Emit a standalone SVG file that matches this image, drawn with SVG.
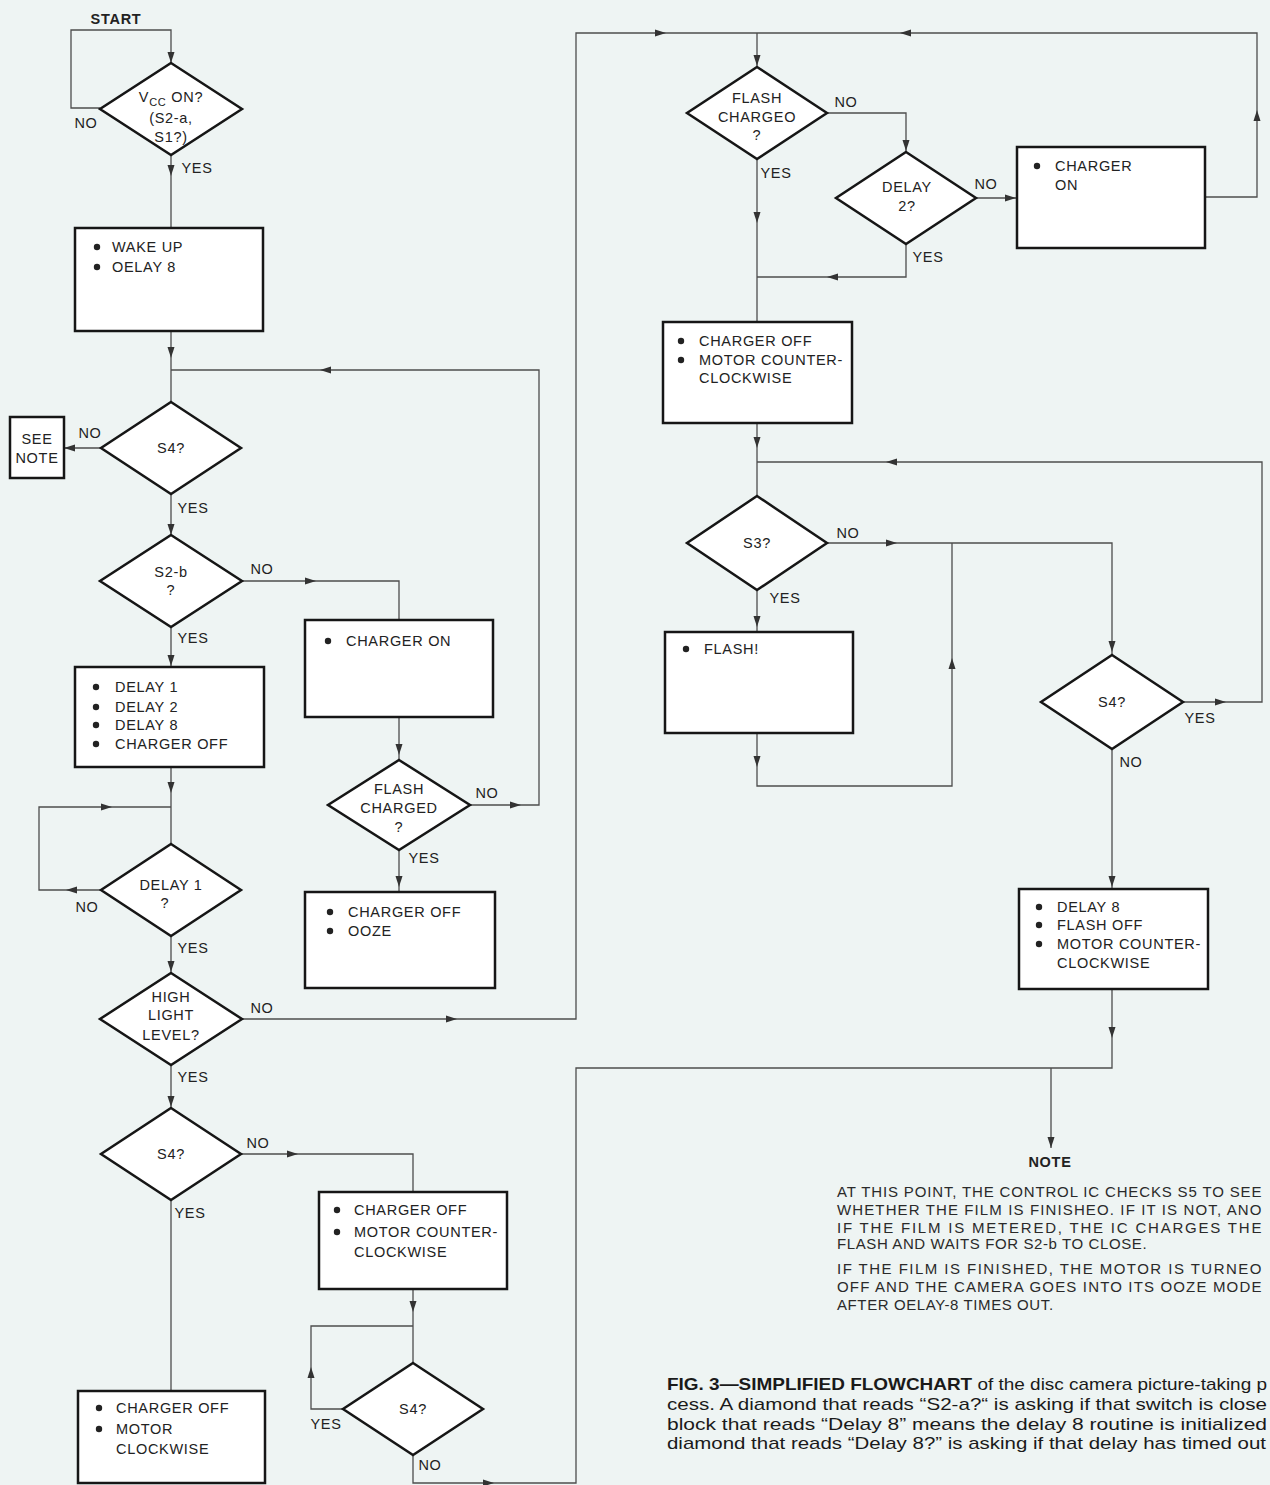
<svg xmlns="http://www.w3.org/2000/svg" xmlns:xlink="http://www.w3.org/1999/xlink" width="1270" height="1485" viewBox="0 0 1270 1485">
<style>
.bg{fill:#eef4f3}
.box{fill:#fff;stroke:#161616;stroke-width:2.5}
.conn{fill:none;stroke:#4d4d4d;stroke-width:1.3}
.t{font-family:"Liberation Sans",Arial,sans-serif;font-size:14.5px;fill:#222;letter-spacing:0.7px}
.c{text-anchor:middle}
.b{font-weight:bold}
.bul{fill:#222}
.note{font-family:"Liberation Sans",Arial,sans-serif;font-size:15px;fill:#2a2a2a;letter-spacing:0.6px}
.cap{font-family:"Liberation Sans",Arial,sans-serif;font-size:17px;fill:#1a1a1a}
</style>
<defs>
<path id="ah" d="M0,0 L-11,-3.5 L-11,3.5 Z" fill="#333"/>
</defs>
<rect class="bg" x="0" y="0" width="1270" height="1485"/>

<g id="connectors">
<path class="conn" d="M100,108 H71 V30 H171 V63"/>
<path class="conn" d="M171,155 V228"/>
<path class="conn" d="M171,331 V402"/>
<path class="conn" d="M469,805 H539 V370 H171"/>
<path class="conn" d="M101,448 H64"/>
<path class="conn" d="M171,494 V535"/>
<path class="conn" d="M242,581 H399 V620"/>
<path class="conn" d="M171,627 V667"/>
<path class="conn" d="M171,767 V844"/>
<path class="conn" d="M171,807 H39 V890 H101"/>
<path class="conn" d="M171,936 V973"/>
<path class="conn" d="M242,1019 H576 V33 H1257 V197 H1205"/>
<path class="conn" d="M757,33 V67"/>
<path class="conn" d="M171,1065 V1108"/>
<path class="conn" d="M241,1154 H413 V1192"/>
<path class="conn" d="M171,1200 V1391"/>
<path class="conn" d="M413,1289 V1363"/>
<path class="conn" d="M413,1326 H311 V1409 H343"/>
<path class="conn" d="M413,1455 V1483 H576 V1068 H1112 V989"/>
<path class="conn" d="M1051,1068 V1148"/>
<path class="conn" d="M399,717 V760"/>
<path class="conn" d="M399,850 V892"/>
<path class="conn" d="M827,113 H906 V152"/>
<path class="conn" d="M757,159 V322"/>
<path class="conn" d="M976,198 H1017"/>
<path class="conn" d="M906,244 V277 H757"/>
<path class="conn" d="M757,423 V496"/>
<path class="conn" d="M1183,702 H1262 V462 H757"/>
<path class="conn" d="M827,543 H1112 V655"/>
<path class="conn" d="M757,590 V632"/>
<path class="conn" d="M757,733 V786 H952 V543"/>
<path class="conn" d="M1112,749 V889"/>
<use xlink:href="#ah" transform="translate(171,63) rotate(90)"/>
<use xlink:href="#ah" transform="translate(171,176) rotate(90)"/>
<use xlink:href="#ah" transform="translate(171,358) rotate(90)"/>
<use xlink:href="#ah" transform="translate(320,370) rotate(180)"/>
<use xlink:href="#ah" transform="translate(521,805)"/>
<use xlink:href="#ah" transform="translate(64,448) rotate(180)"/>
<use xlink:href="#ah" transform="translate(171,535) rotate(90)"/>
<use xlink:href="#ah" transform="translate(316,581)"/>
<use xlink:href="#ah" transform="translate(171,666) rotate(90)"/>
<use xlink:href="#ah" transform="translate(171,793) rotate(90)"/>
<use xlink:href="#ah" transform="translate(112,807)"/>
<use xlink:href="#ah" transform="translate(66,890) rotate(180)"/>
<use xlink:href="#ah" transform="translate(171,972) rotate(90)"/>
<use xlink:href="#ah" transform="translate(457,1019)"/>
<use xlink:href="#ah" transform="translate(666,33)"/>
<use xlink:href="#ah" transform="translate(900,33) rotate(180)"/>
<use xlink:href="#ah" transform="translate(1257,110) rotate(-90)"/>
<use xlink:href="#ah" transform="translate(757,66) rotate(90)"/>
<use xlink:href="#ah" transform="translate(171,1107) rotate(90)"/>
<use xlink:href="#ah" transform="translate(298,1154)"/>
<use xlink:href="#ah" transform="translate(413,1312) rotate(90)"/>
<use xlink:href="#ah" transform="translate(311,1367) rotate(-90)"/>
<use xlink:href="#ah" transform="translate(494,1483)"/>
<use xlink:href="#ah" transform="translate(1051,1148) rotate(90)"/>
<use xlink:href="#ah" transform="translate(399,755) rotate(90)"/>
<use xlink:href="#ah" transform="translate(399,887) rotate(90)"/>
<use xlink:href="#ah" transform="translate(906,151) rotate(90)"/>
<use xlink:href="#ah" transform="translate(757,223) rotate(90)"/>
<use xlink:href="#ah" transform="translate(1016,198)"/>
<use xlink:href="#ah" transform="translate(827,277) rotate(180)"/>
<use xlink:href="#ah" transform="translate(757,448) rotate(90)"/>
<use xlink:href="#ah" transform="translate(1226,702)"/>
<use xlink:href="#ah" transform="translate(886,462) rotate(180)"/>
<use xlink:href="#ah" transform="translate(897,543)"/>
<use xlink:href="#ah" transform="translate(1112,652) rotate(90)"/>
<use xlink:href="#ah" transform="translate(757,627) rotate(90)"/>
<use xlink:href="#ah" transform="translate(757,767) rotate(90)"/>
<use xlink:href="#ah" transform="translate(952,658) rotate(-90)"/>
<use xlink:href="#ah" transform="translate(1112,887) rotate(90)"/>
<use xlink:href="#ah" transform="translate(1112,1038) rotate(90)"/>
</g>

<g id="edge-labels">
<text class="t b" x="116" y="24" text-anchor="middle">START</text>
<text class="t" x="86" y="128" text-anchor="middle">NO</text>
<text class="t" x="197" y="173" text-anchor="middle">YES</text>
<text class="t" x="90" y="438" text-anchor="middle">NO</text>
<text class="t" x="193" y="513" text-anchor="middle">YES</text>
<text class="t" x="262" y="574" text-anchor="middle">NO</text>
<text class="t" x="193" y="643" text-anchor="middle">YES</text>
<text class="t" x="87" y="912" text-anchor="middle">NO</text>
<text class="t" x="193" y="953" text-anchor="middle">YES</text>
<text class="t" x="262" y="1013" text-anchor="middle">NO</text>
<text class="t" x="193" y="1082" text-anchor="middle">YES</text>
<text class="t" x="258" y="1148" text-anchor="middle">NO</text>
<text class="t" x="190" y="1218" text-anchor="middle">YES</text>
<text class="t" x="326" y="1429" text-anchor="middle">YES</text>
<text class="t" x="430" y="1470" text-anchor="middle">NO</text>
<text class="t" x="487" y="798" text-anchor="middle">NO</text>
<text class="t" x="424" y="863" text-anchor="middle">YES</text>
<text class="t" x="846" y="107" text-anchor="middle">NO</text>
<text class="t" x="776" y="178" text-anchor="middle">YES</text>
<text class="t" x="986" y="189" text-anchor="middle">NO</text>
<text class="t" x="928" y="262" text-anchor="middle">YES</text>
<text class="t" x="848" y="538" text-anchor="middle">NO</text>
<text class="t" x="785" y="603" text-anchor="middle">YES</text>
<text class="t" x="1200" y="723" text-anchor="middle">YES</text>
<text class="t" x="1131" y="767" text-anchor="middle">NO</text>
</g>

<g id="n-vcc">
<polygon class="box" points="171,63 242,109 171,155 100,109"/>
<text class="t c" x="171" y="102">V<tspan font-size="11" dy="4">CC</tspan><tspan dy="-4"> ON?</tspan></text>
<text class="t c" x="171" y="123">(S2-a,</text>
<text class="t c" x="171" y="142">S1?)</text>
</g>
<g id="n-wake">
<rect class="box" x="75" y="228" width="188" height="103"/>
<circle class="bul" cx="97" cy="247" r="3.2"/><text class="t" x="112" y="252">WAKE UP</text>
<circle class="bul" cx="97" cy="267" r="3.2"/><text class="t" x="112" y="272">OELAY 8</text>
</g>
<g id="n-s4a">
<polygon class="box" points="171,402 241,448 171,494 101,448"/>
<text class="t c" x="171" y="453">S4?</text>
</g>
<g id="n-seenote">
<rect class="box" x="10" y="417" width="54" height="61"/>
<text class="t c" x="37" y="444">SEE</text>
<text class="t c" x="37" y="463">NOTE</text>
</g>
<g id="n-s2b">
<polygon class="box" points="171,535 242,581 171,627 100,581"/>
<text class="t c" x="171" y="577">S2-b</text>
<text class="t c" x="171" y="595">?</text>
</g>
<g id="n-chon1">
<rect class="box" x="305" y="620" width="188" height="97"/>
<circle class="bul" cx="328" cy="641" r="3.2"/><text class="t" x="346" y="646">CHARGER ON</text>
</g>
<g id="n-delays">
<rect class="box" x="75" y="667" width="189" height="100"/>
<circle class="bul" cx="96" cy="687" r="3.2"/><text class="t" x="115" y="692">DELAY 1</text>
<circle class="bul" cx="96" cy="707" r="3.2"/><text class="t" x="115" y="712">DELAY 2</text>
<circle class="bul" cx="96" cy="725" r="3.2"/><text class="t" x="115" y="730">DELAY 8</text>
<circle class="bul" cx="96" cy="744" r="3.2"/><text class="t" x="115" y="749">CHARGER OFF</text>
</g>
<g id="n-flashc1">
<polygon class="box" points="399,760 470,805 399,850 328,805"/>
<text class="t c" x="399" y="794">FLASH</text>
<text class="t c" x="399" y="813">CHARGED</text>
<text class="t c" x="399" y="832">?</text>
</g>
<g id="n-doze">
<rect class="box" x="305" y="892" width="190" height="96"/>
<circle class="bul" cx="330" cy="912" r="3.2"/><text class="t" x="348" y="917">CHARGER OFF</text>
<circle class="bul" cx="330" cy="931" r="3.2"/><text class="t" x="348" y="936">OOZE</text>
</g>
<g id="n-delay1">
<polygon class="box" points="171,844 241,890 171,936 101,890"/>
<text class="t c" x="171" y="890">DELAY 1</text>
<text class="t c" x="165" y="908">?</text>
</g>
<g id="n-high">
<polygon class="box" points="171,973 242,1019 171,1065 100,1019"/>
<text class="t c" x="171" y="1002">HIGH</text>
<text class="t c" x="171" y="1020">LIGHT</text>
<text class="t c" x="171" y="1040">LEVEL?</text>
</g>
<g id="n-s4b">
<polygon class="box" points="171,1108 241,1154 171,1200 101,1154"/>
<text class="t c" x="171" y="1159">S4?</text>
</g>
<g id="n-ccw1">
<rect class="box" x="319" y="1192" width="188" height="97"/>
<circle class="bul" cx="337" cy="1210" r="3.2"/><text class="t" x="354" y="1215">CHARGER OFF</text>
<circle class="bul" cx="337" cy="1232" r="3.2"/><text class="t" x="354" y="1237">MOTOR COUNTER-</text>
<text class="t" x="354" y="1257">CLOCKWISE</text>
</g>
<g id="n-s4c">
<polygon class="box" points="413,1363 483,1409 413,1455 343,1409"/>
<text class="t c" x="413" y="1414">S4?</text>
</g>
<g id="n-cw">
<rect class="box" x="78" y="1391" width="187" height="92"/>
<circle class="bul" cx="99" cy="1408" r="3.2"/><text class="t" x="116" y="1413">CHARGER OFF</text>
<circle class="bul" cx="99" cy="1429" r="3.2"/><text class="t" x="116" y="1434">MOTOR</text>
<text class="t" x="116" y="1454">CLOCKWISE</text>
</g>
<g id="n-flashc2">
<polygon class="box" points="757,67 827,113 757,159 687,113"/>
<text class="t c" x="757" y="103">FLASH</text>
<text class="t c" x="757" y="122">CHARGEO</text>
<text class="t c" x="757" y="140">?</text>
</g>
<g id="n-delay2">
<polygon class="box" points="906,152 976,198 906,244 836,198"/>
<text class="t c" x="907" y="192">DELAY</text>
<text class="t c" x="907" y="211">2?</text>
</g>
<g id="n-chon2">
<rect class="box" x="1017" y="147" width="188" height="101"/>
<circle class="bul" cx="1037" cy="166" r="3.2"/><text class="t" x="1055" y="171">CHARGER</text>
<text class="t" x="1055" y="190">ON</text>
</g>
<g id="n-ccw2">
<rect class="box" x="663" y="322" width="189" height="101"/>
<circle class="bul" cx="681" cy="341" r="3.2"/><text class="t" x="699" y="346">CHARGER OFF</text>
<circle class="bul" cx="681" cy="360" r="3.2"/><text class="t" x="699" y="365">MOTOR COUNTER-</text>
<text class="t" x="699" y="383">CLOCKWISE</text>
</g>
<g id="n-s3">
<polygon class="box" points="757,496 827,543 757,590 687,543"/>
<text class="t c" x="757" y="548">S3?</text>
</g>
<g id="n-flash">
<rect class="box" x="665" y="632" width="188" height="101"/>
<circle class="bul" cx="686" cy="649" r="3.2"/><text class="t" x="704" y="654">FLASH!</text>
</g>
<g id="n-s4d">
<polygon class="box" points="1112,655 1183,702 1112,749 1041,702"/>
<text class="t c" x="1112" y="707">S4?</text>
</g>
<g id="n-d8">
<rect class="box" x="1019" y="889" width="189" height="100"/>
<circle class="bul" cx="1039" cy="907" r="3.2"/><text class="t" x="1057" y="912">DELAY 8</text>
<circle class="bul" cx="1039" cy="925" r="3.2"/><text class="t" x="1057" y="930">FLASH OFF</text>
<circle class="bul" cx="1039" cy="944" r="3.2"/><text class="t" x="1057" y="949">MOTOR COUNTER-</text>
<text class="t" x="1057" y="968">CLOCKWISE</text>
</g>

<g id="n-note">
<text class="t b c" x="1050" y="1167">NOTE</text>
<text class="note" x="837" y="1197" textLength="425" lengthAdjust="spacing">AT THIS POINT, THE CONTROL IC CHECKS S5 TO SEE</text>
<text class="note" x="837" y="1215" textLength="425" lengthAdjust="spacing">WHETHER THE FILM IS FINISHEO. IF IT IS NOT, ANO</text>
<text class="note" x="837" y="1233" textLength="425" lengthAdjust="spacing">IF THE FILM IS METERED, THE IC CHARGES THE</text>
<text class="note" x="837" y="1249">FLASH AND WAITS FOR S2-b TO CLOSE.</text>
<text class="note" x="837" y="1274" textLength="425" lengthAdjust="spacing">IF THE FILM IS FINISHED, THE MOTOR IS TURNEO</text>
<text class="note" x="837" y="1292" textLength="425" lengthAdjust="spacing">OFF AND THE CAMERA GOES INTO ITS OOZE MODE</text>
<text class="note" x="837" y="1310">AFTER OELAY-8 TIMES OUT.</text>
</g>

<g id="caption">
<text class="cap" x="667" y="1390" textLength="600" lengthAdjust="spacingAndGlyphs"><tspan font-weight="bold">FIG. 3—SIMPLIFIED FLOWCHART</tspan> of the disc camera picture-taking p</text>
<text class="cap" x="667" y="1410" textLength="600" lengthAdjust="spacingAndGlyphs">cess. A diamond that reads “S2-a?“ is asking if that switch is close</text>
<text class="cap" x="667" y="1430" textLength="600" lengthAdjust="spacingAndGlyphs">block that reads “Delay 8” means the delay 8 routine is initialized</text>
<text class="cap" x="667" y="1449" textLength="599" lengthAdjust="spacingAndGlyphs">diamond that reads “Delay 8?” is asking if that delay has timed out</text>
</g>
</svg>
